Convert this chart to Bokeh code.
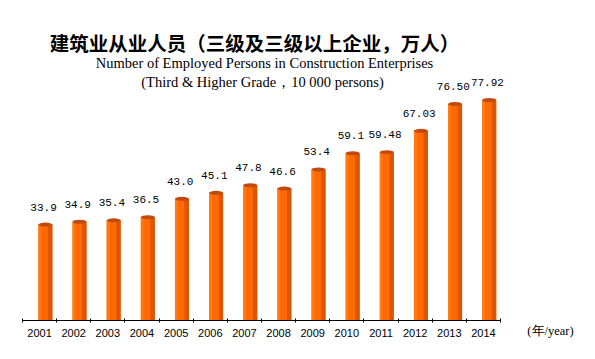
import numpy as np
from bokeh.plotting import figure
from bokeh.models import (Range1d, FixedTicker, ColumnDataSource, LabelSet, Label)
from bokeh.transform import dodge
from bokeh.core.properties import value
from bokeh.embed import file_html
from bokeh.resources import INLINE

years = ["2001", "2002", "2003", "2004", "2005", "2006", "2007",
         "2008", "2009", "2010", "2011", "2012", "2013", "2014"]
persons = [33.9, 34.9, 35.4, 36.5, 43.0, 45.1, 47.8, 46.6, 53.4, 59.1, 59.48, 67.03, 76.50, 77.92]
labels = ["33.9", "34.9", "35.4", "36.5", "43.0", "45.1", "47.8", "46.6", "53.4",
          "59.1", "59.48", "67.03", "76.50", "77.92"]

title_cn = "建筑业从业人员（三级及三级以上企业，万人）"
sub1 = "Number of Employed Persons in Construction Enterprises"
sub2 = "(Third & Higher Grade，10 000 persons)"
unit = "(年/year)"

n = len(years)
centers = (np.arange(n) + 0.5).tolist()
edges = list(range(n + 1))
src = ColumnDataSource(dict(xc=centers, v=persons, lab=labels))

W, H = 590, 350
X0, X1, BASE = 22, 500, 320          # frame layout in pixels
kx = (X1 - X0) / n                   # px per category
ky = 2.83                            # px per unit
p = figure(width=W, height=H,
           x_range=Range1d(-X0 / kx, (W - X0) / kx),
           y_range=Range1d(-(H - BASE) / ky, BASE / ky),
           y_axis_type=None, output_backend="svg", toolbar_location=None,
           min_border=0, min_border_left=0, min_border_right=0,
           min_border_top=0, min_border_bottom=0)
p.outline_line_color = None
p.grid.visible = False
p.background_fill_color = "white"

ax = p.xaxis[0]
ax.fixed_location = 0
ax.bounds = (0, n)
ax.ticker = FixedTicker(ticks=centers, minor_ticks=edges)
ax.major_label_overrides = {c: y for c, y in zip(centers, years)}
ax.major_tick_line_color = None
ax.major_tick_in = 0
ax.major_tick_out = 0
ax.minor_tick_line_color = "black"
ax.minor_tick_in = 2
ax.minor_tick_out = 2
ax.axis_line_color = "black"
ax.major_label_text_font = "Liberation Sans"
ax.major_label_text_font_size = "11px"
ax.major_label_text_color = "black"
ax.major_label_standoff = 6

bw = 0.41
off = 0.17
p.vbar(x=dodge("xc", off), top="v", bottom=0, width=bw, source=src,
       fill_color="#FF6A00", line_color=None)
p.vbar(x=dodge("xc", off - bw / 2 + 0.04), top="v", bottom=0, width=0.08,
       source=src, fill_color="#FF7A14", line_color=None)
p.vbar(x=dodge("xc", off + bw / 2 - 0.065), top="v", bottom=0, width=0.13,
       source=src, fill_color="#DE5500", line_color=None)
p.ellipse(x=dodge("xc", off), y="v", width=bw, height=4, height_units="screen",
          source=src, fill_color="#C04A10", line_color=None)

vl = LabelSet(x="xc", y="v", text="lab", source=src, x_offset=4, y_offset=14,
              text_align="center", text_baseline="alphabetic",
              text_font=value("Liberation Mono"), text_font_size="11px", text_color="black")
p.add_layout(vl)

p.add_layout(Label(x=254, y=H - 42, x_units="screen", y_units="screen", text=title_cn,
                   text_font="Noto Sans CJK SC", text_font_size="19.5px", text_font_style="bold",
                   text_align="center", text_baseline="middle", text_color="black"))
p.add_layout(Label(x=264, y=H - 62, x_units="screen", y_units="screen", text=sub1,
                   text_font="Liberation Serif", text_font_size="14.5px",
                   text_align="center", text_baseline="middle", text_color="black"))
p.add_layout(Label(x=262, y=H - 81, x_units="screen", y_units="screen", text=sub2,
                   text_font="Liberation Serif", text_font_size="14.5px",
                   text_align="center", text_baseline="middle", text_color="black"))
p.add_layout(Label(x=550, y=H - 330, x_units="screen", y_units="screen", text=unit,
                   text_font="Liberation Serif", text_font_size="12.5px",
                   text_align="center", text_baseline="middle", text_color="black"))

open("out.html", "w").write(file_html(p, INLINE))
